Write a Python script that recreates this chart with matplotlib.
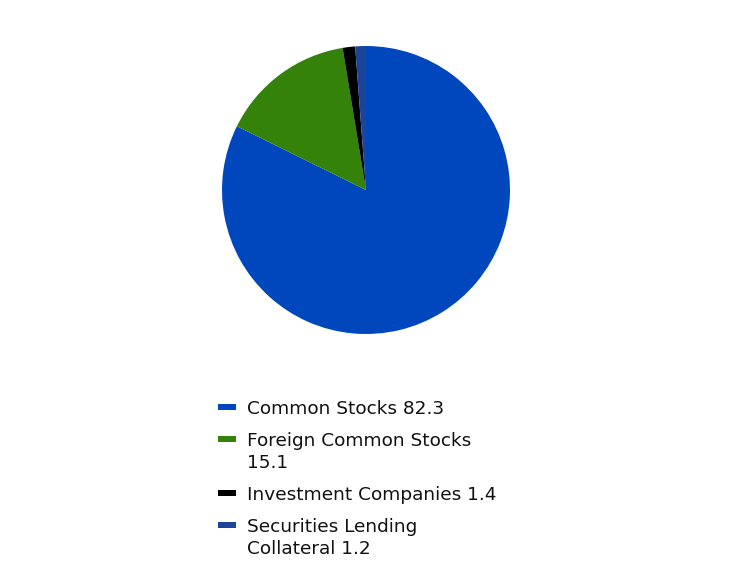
import matplotlib.pyplot as plt
from matplotlib.patches import Rectangle

# data
labels = [["Common Stocks 82.3"], ["Foreign Common Stocks", "15.1"],
          ["Investment Companies 1.4"], ["Securities Lending", "Collateral 1.2"]]
values = [82.3, 15.1, 1.4, 1.2]
colors = ["#0047BE", "#35820B", "#000000", "#1C449A"]

W, H = 732, 564
fig = plt.figure(figsize=(W / 100, H / 100), dpi=100)

# pie: center (366,190), radius 144 px
cx, cy, r = 366, 190, 144
ax = fig.add_axes([(cx - r) / W, 1 - (cy + r) / H, 2 * r / W, 2 * r / H])
ax.pie(values, colors=colors, startangle=90, counterclock=False,
       wedgeprops=dict(linewidth=0))
ax.set_aspect("equal")
ax.set_xlim(-1, 1)
ax.set_ylim(-1, 1)
ax.axis("off")

# legend, drawn by hand so the swatch sits on the first text line
y = 407          # center of first line, px from top
line_h = 22
gap = 10
for lines, c in zip(labels, colors):
    fig.patches.append(Rectangle((218 / W, 1 - (y + 3) / H), 18 / W, 6 / H,
                                 transform=fig.transFigure,
                                 facecolor=c, edgecolor="none"))
    for i, s in enumerate(lines):
        fig.text(247 / W, 1 - (y + i * line_h + 6.5) / H, s,
                 fontsize=13.3, va="baseline", ha="left", color="#111111")
    y += len(lines) * line_h + gap

fig.savefig("out.png", dpi=100)
